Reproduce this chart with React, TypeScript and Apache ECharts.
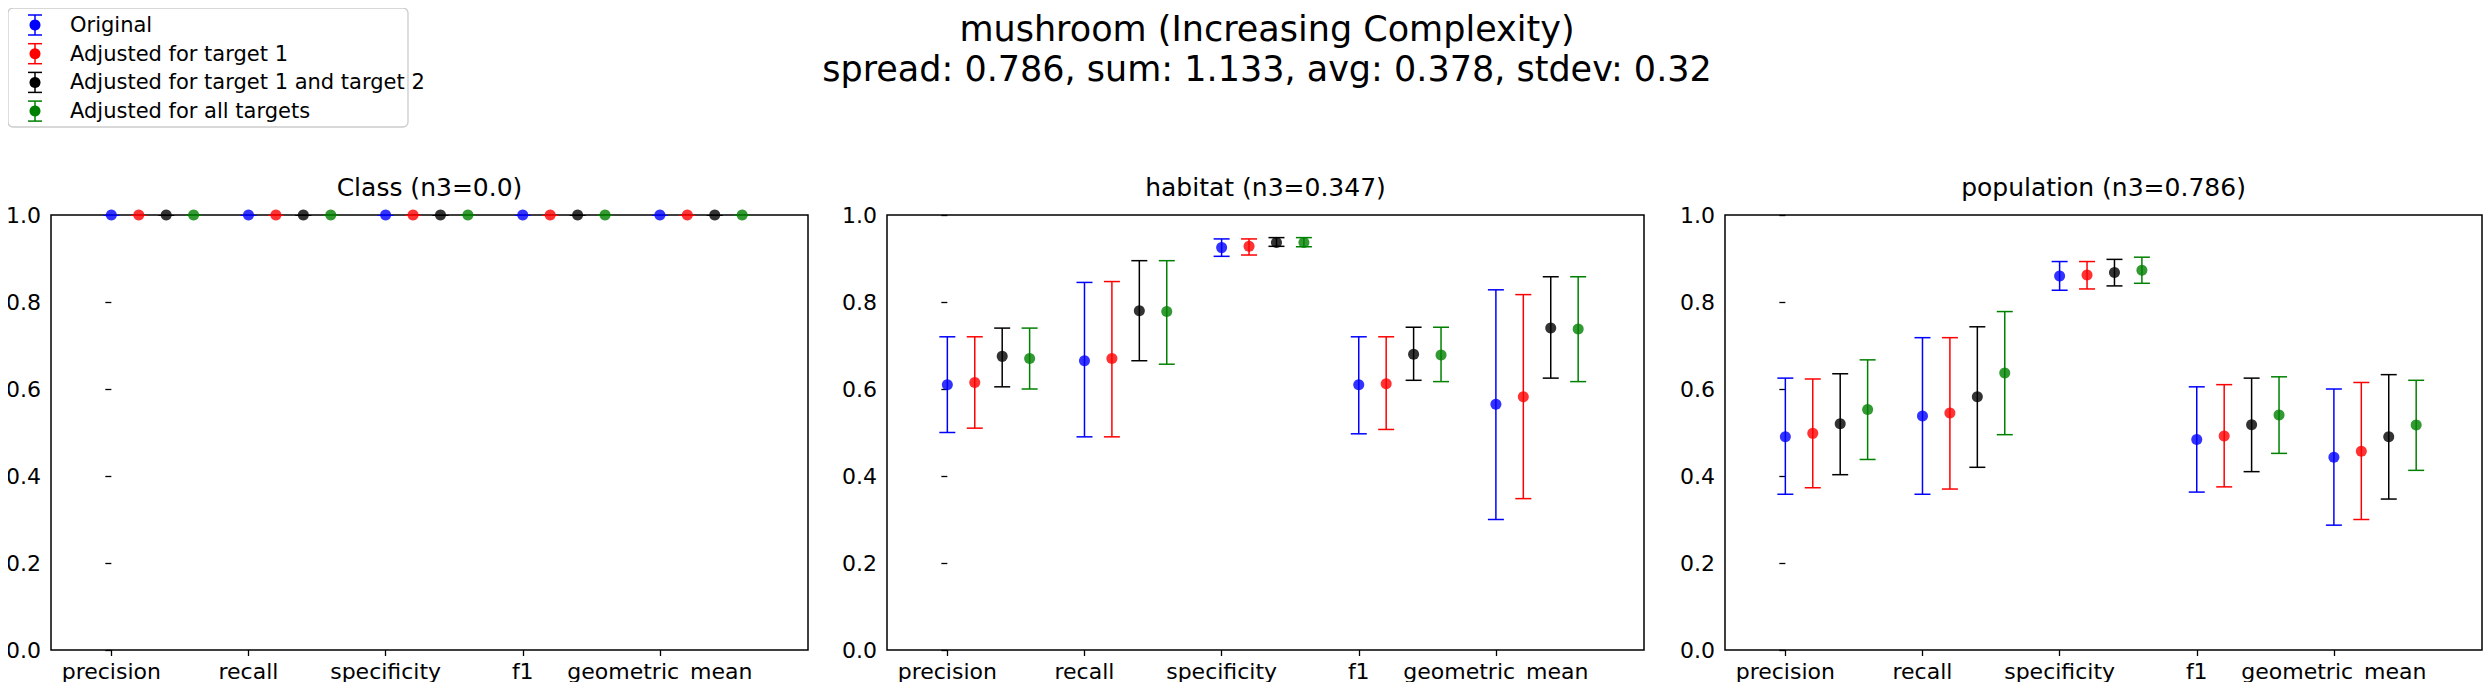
import React, { useEffect, useRef } from "react";
import * as echarts from "echarts";

const metrics = ["precision", "recall", "specificity", "f1", "geometric_mean"];
const seriesNames = [
  "Original",
  "Adjusted for target 1",
  "Adjusted for target 1 and target 2",
  "Adjusted for all targets",
];
const colors = ["#0000ff", "#ff0000", "#000000", "#008000"];
const panelTitles = ["Class (n3=0.0)", "habitat (n3=0.347)", "population (n3=0.786)"];
const yTicks = [0, 0.2, 0.4, 0.6, 0.8, 1.0];

// [mean, low, high] per metric, per series
const classVals = [
  [[1, 1, 1], [1, 1, 1], [1, 1, 1], [1, 1, 1], [1, 1, 1]],
  [[1, 1, 1], [1, 1, 1], [1, 1, 1], [1, 1, 1], [1, 1, 1]],
  [[1, 1, 1], [1, 1, 1], [1, 1, 1], [1, 1, 1], [1, 1, 1]],
  [[1, 1, 1], [1, 1, 1], [1, 1, 1], [1, 1, 1], [1, 1, 1]],
];
const habitatVals = [
  [[0.61, 0.5, 0.72], [0.665, 0.49, 0.845], [0.925, 0.905, 0.945], [0.61, 0.497, 0.72], [0.565, 0.3, 0.828]],
  [[0.615, 0.51, 0.72], [0.67, 0.49, 0.847], [0.928, 0.908, 0.945], [0.612, 0.507, 0.72], [0.582, 0.348, 0.817]],
  [[0.675, 0.605, 0.74], [0.78, 0.665, 0.895], [0.937, 0.928, 0.948], [0.68, 0.62, 0.742], [0.74, 0.625, 0.858]],
  [[0.67, 0.6, 0.74], [0.778, 0.657, 0.895], [0.937, 0.927, 0.948], [0.678, 0.617, 0.742], [0.738, 0.617, 0.858]],
];
const populationVals = [
  [[0.49, 0.358, 0.625], [0.538, 0.358, 0.718], [0.86, 0.827, 0.893], [0.484, 0.363, 0.605], [0.443, 0.287, 0.6]],
  [[0.498, 0.373, 0.623], [0.545, 0.37, 0.718], [0.862, 0.83, 0.893], [0.492, 0.375, 0.61], [0.457, 0.3, 0.615]],
  [[0.52, 0.403, 0.635], [0.582, 0.42, 0.743], [0.868, 0.837, 0.898], [0.518, 0.41, 0.625], [0.49, 0.347, 0.633]],
  [[0.553, 0.438, 0.667], [0.637, 0.495, 0.778], [0.873, 0.843, 0.903], [0.54, 0.452, 0.628], [0.517, 0.413, 0.62]],
];
const panels = [classVals, habitatVals, populationVals];

const FONT = "DejaVu Sans";
const gridLefts = [51, 887, 1725];
const gridWidth = 757;

const App: React.FC = () => {
  const chartRef = useRef<HTMLDivElement>(null);

  useEffect(() => {
    const chart = echarts.init(chartRef.current!, null, { renderer: "svg" });

    const grid = gridLefts.map((left) => ({
      left,
      width: gridWidth,
      top: 215,
      height: 435,
      show: true,
      borderColor: "#000",
      borderWidth: 1.5,
    }));

    const xAxis = panels.map((_, p) => ({
      type: "value",
      gridIndex: p,
      min: -0.44,
      max: 5.08,
      axisLine: { show: false },
      splitLine: { show: false },
      axisTick: { show: true, customValues: [0, 1, 2, 3, 4], length: 6, lineStyle: { color: "#000", width: 1.3 } },
      axisLabel: {
        customValues: [0, 1, 2, 3, 4],
        formatter: (v: number) => metrics[Math.round(v)] ?? "",
        color: "#000",
        fontSize: 22,
        fontFamily: FONT,
        margin: 10,
      },
    }));

    const yAxis = panels.map((_, p) => ({
      type: "value",
      gridIndex: p,
      min: 0,
      max: 1,
      interval: 0.2,
      axisLine: { show: false },
      splitLine: { show: false },
      axisTick: { show: true, length: 6, lineStyle: { color: "#000", width: 1.3 } },
      axisLabel: {
        formatter: (v: number) => v.toFixed(1),
        color: "#000",
        fontSize: 22,
        fontFamily: FONT,
        margin: 10,
      },
    }));

    const series: any[] = [];
    panels.forEach((vals, p) => {
      vals.forEach((rows, s) => {
        const pts = rows.map((r, i) => [i + s * 0.2, r[0], r[1], r[2]]);
        series.push({
          type: "custom",
          xAxisIndex: p,
          yAxisIndex: p,
          clip: true,
          data: pts,
          renderItem: (params: any, api: any) => {
            const x = api.value(0);
            const lo = api.coord([x, api.value(2)]);
            const hi = api.coord([x, api.value(3)]);
            const st = { stroke: colors[s], lineWidth: 1.5 };
            return {
              type: "group",
              children: [
                { type: "line", shape: { x1: lo[0], y1: lo[1], x2: hi[0], y2: hi[1] }, style: st },
                { type: "line", shape: { x1: lo[0] - 8, y1: lo[1], x2: lo[0] + 8, y2: lo[1] }, style: st },
                { type: "line", shape: { x1: hi[0] - 8, y1: hi[1], x2: hi[0] + 8, y2: hi[1] }, style: st },
              ],
            };
          },
          z: 2,
        });
        series.push({
          type: "scatter",
          xAxisIndex: p,
          yAxisIndex: p,
          clip: true,
          symbolSize: 11,
          itemStyle: { color: colors[s] },
          data: pts.map((d) => [d[0], d[1]]),
          z: 3,
        });
      });
    });

    const legendChildren: any[] = [
      { type: "rect", shape: { x: 8, y: 8, width: 400, height: 119, r: 5 }, style: { fill: "#fff", stroke: "#ccc", lineWidth: 1.3 } },
    ];
    seriesNames.forEach((name, i) => {
      const cy = 25 + i * 28.7;
      const st = { stroke: colors[i], lineWidth: 1.5 };
      legendChildren.push(
        { type: "line", shape: { x1: 35, y1: cy - 10, x2: 35, y2: cy + 10 }, style: st },
        { type: "line", shape: { x1: 28, y1: cy - 10, x2: 42, y2: cy - 10 }, style: st },
        { type: "line", shape: { x1: 28, y1: cy + 10, x2: 42, y2: cy + 10 }, style: st },
        { type: "circle", shape: { cx: 35, cy, r: 5.5 }, style: { fill: colors[i] } },
        { type: "text", x: 70, y: cy, style: { text: name, fontSize: 21, fontFamily: FONT, fill: "#000", verticalAlign: "middle" } }
      );
    });

    const titles = panelTitles.map((t, p) => ({
      type: "text",
      x: gridLefts[p] + gridWidth / 2,
      y: 200,
      style: { text: t, fontSize: 25, fontFamily: FONT, fill: "#000", align: "center", verticalAlign: "bottom" },
    }));

    chart.setOption({
      animation: false,
      backgroundColor: "#fff",
      title: {
        text: "mushroom (Increasing Complexity)\nspread: 0.786, sum: 1.133, avg: 0.378, stdev: 0.32",
        left: 1262,
        textAlign: "center",
        top: 4,
        textStyle: { fontSize: 35, fontWeight: "normal", fontFamily: FONT, color: "#000", lineHeight: 40 },
      },
      grid,
      xAxis,
      yAxis,
      series,
      graphic: [...titles, { type: "group", children: legendChildren, z: 10 }],
    });

    return () => {
      chart.dispose();
    };
  }, []);

  return <div ref={chartRef} style={{ width: 2491, height: 690, margin: -8 }}></div>;
};

export default App;
